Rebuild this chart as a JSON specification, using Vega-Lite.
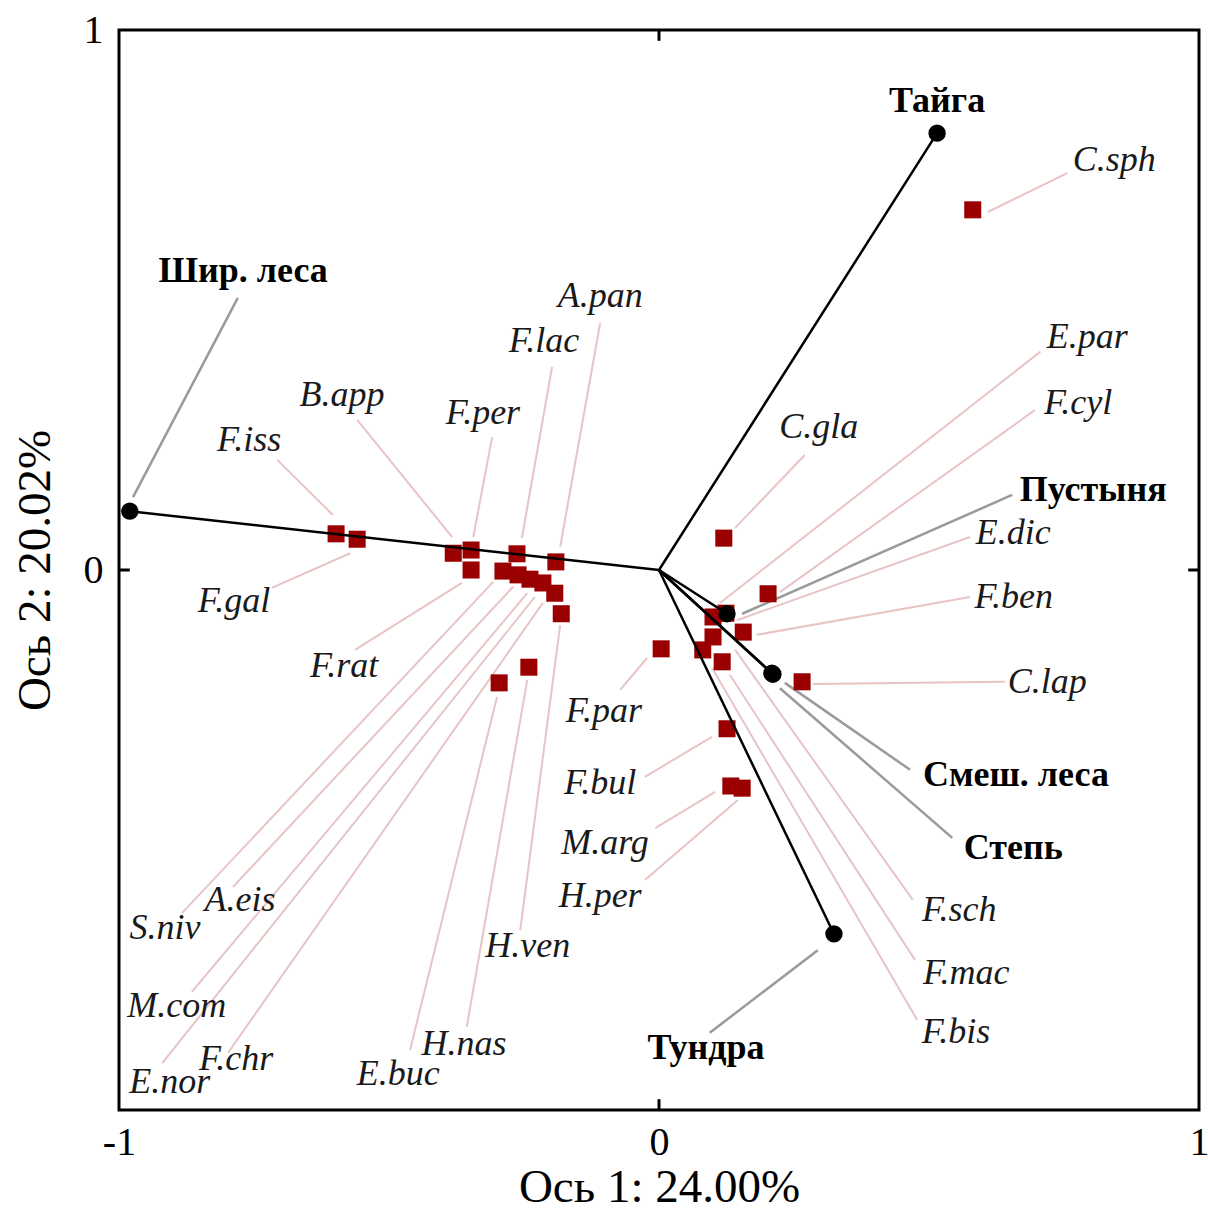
{
  "$schema": "https://vega.github.io/schema/vega-lite/v6.json",
  "width": 1080,
  "height": 1080,
  "autosize": {"type": "none"},
  "padding": {"left": 119, "top": 30, "right": 9, "bottom": 99},
  "background": "white",
  "datasets": {
    "species": [
      {"n":"F.iss","x":-0.598,"y":0.067,"lx":-0.759,"ly":0.241,"ax":-0.707,"ay":0.204,"bx":-0.604,"by":0.102},
      {"n":"F.gal","x":-0.559,"y":0.057,"lx":-0.787,"ly":-0.057,"ax":-0.717,"ay":-0.033,"bx":-0.572,"by":0.031},
      {"n":"B.app","x":-0.381,"y":0.031,"lx":-0.587,"ly":0.324,"ax":-0.559,"ay":0.278,"bx":-0.383,"by":0.061},
      {"n":"F.per","x":-0.348,"y":0.037,"lx":-0.326,"ly":0.291,"ax":-0.309,"ay":0.246,"bx":-0.344,"by":0.061},
      {"n":"F.rat","x":-0.348,"y":0.0,"lx":-0.583,"ly":-0.178,"ax":-0.563,"ay":-0.148,"bx":-0.365,"by":-0.024},
      {"n":"F.lac","x":-0.263,"y":0.030,"lx":-0.213,"ly":0.424,"ax":-0.198,"ay":0.376,"bx":-0.254,"by":0.059},
      {"n":"A.pan","x":-0.191,"y":0.015,"lx":-0.109,"ly":0.507,"ax":-0.109,"ay":0.457,"bx":-0.183,"by":0.043},
      {"n":"S.niv","x":-0.289,"y":-0.002,"lx":-0.915,"ly":-0.663,"ax":-0.883,"ay":-0.635,"bx":-0.307,"by":-0.022},
      {"n":"A.eis","x":-0.261,"y":-0.009,"lx":-0.776,"ly":-0.611,"ax":-0.789,"ay":-0.587,"bx":-0.270,"by":-0.031},
      {"n":"M.com","x":-0.239,"y":-0.017,"lx":-0.893,"ly":-0.807,"ax":-0.865,"ay":-0.781,"bx":-0.244,"by":-0.043},
      {"n":"E.nor","x":-0.215,"y":-0.024,"lx":-0.906,"ly":-0.948,"ax":-0.920,"ay":-0.913,"bx":-0.230,"by":-0.050},
      {"n":"F.chr","x":-0.193,"y":-0.043,"lx":-0.783,"ly":-0.906,"ax":-0.798,"ay":-0.894,"bx":-0.215,"by":-0.061},
      {"n":"H.ven","x":-0.181,"y":-0.081,"lx":-0.243,"ly":-0.696,"ax":-0.257,"ay":-0.667,"bx":-0.183,"by":-0.102},
      {"n":"H.nas","x":-0.241,"y":-0.180,"lx":-0.361,"ly":-0.878,"ax":-0.356,"ay":-0.846,"bx":-0.244,"by":-0.204},
      {"n":"E.buc","x":-0.296,"y":-0.209,"lx":-0.483,"ly":-0.933,"ax":-0.461,"ay":-0.889,"bx":-0.300,"by":-0.235},
      {"n":"C.sph","x":0.581,"y":0.667,"lx":0.843,"ly":0.759,"ax":0.756,"ay":0.735,"bx":0.609,"by":0.663},
      {"n":"C.gla","x":0.120,"y":0.059,"lx":0.296,"ly":0.265,"ax":0.270,"ay":0.213,"bx":0.141,"by":0.078},
      {"n":"E.par","x":0.100,"y":-0.087,"lx":0.793,"ly":0.431,"ax":0.706,"ay":0.404,"bx":0.113,"by":-0.061},
      {"n":"F.cyl","x":0.202,"y":-0.044,"lx":0.776,"ly":0.309,"ax":0.696,"ay":0.296,"bx":0.224,"by":-0.041},
      {"n":"E.dic","x":0.124,"y":-0.080,"lx":0.656,"ly":0.069,"ax":0.576,"ay":0.061,"bx":0.144,"by":-0.093},
      {"n":"F.ben","x":0.156,"y":-0.115,"lx":0.657,"ly":-0.050,"ax":0.576,"ay":-0.050,"bx":0.181,"by":-0.120},
      {"n":"C.lap","x":0.265,"y":-0.207,"lx":0.719,"ly":-0.207,"ax":0.641,"ay":-0.207,"bx":0.285,"by":-0.211},
      {"n":"F.sch","x":0.100,"y":-0.124,"lx":0.556,"ly":-0.630,"ax":0.470,"ay":-0.611,"bx":0.141,"by":-0.148},
      {"n":"F.mac","x":0.117,"y":-0.170,"lx":0.569,"ly":-0.746,"ax":0.474,"ay":-0.722,"bx":0.131,"by":-0.194},
      {"n":"F.bis","x":0.081,"y":-0.148,"lx":0.550,"ly":-0.856,"ax":0.478,"ay":-0.833,"bx":0.098,"by":-0.181},
      {"n":"F.par","x":0.004,"y":-0.146,"lx":-0.102,"ly":-0.261,"ax":-0.072,"ay":-0.222,"bx":-0.022,"by":-0.163},
      {"n":"F.bul","x":0.126,"y":-0.294,"lx":-0.109,"ly":-0.394,"ax":-0.026,"ay":-0.383,"bx":0.098,"by":-0.309},
      {"n":"M.arg","x":0.133,"y":-0.400,"lx":-0.100,"ly":-0.506,"ax":-0.007,"ay":-0.478,"bx":0.104,"by":-0.411},
      {"n":"H.per","x":0.154,"y":-0.404,"lx":-0.109,"ly":-0.604,"ax":-0.026,"ay":-0.574,"bx":0.146,"by":-0.426}
    ],
    "env": [
      {"n":"Тайга","x":0.515,"y":0.809,"lx":0.515,"ly":0.869},
      {"n":"Шир. леса","x":-0.980,"y":0.109,"lx":-0.770,"ly":0.554,"ax":-0.780,"ay":0.504,"bx":-0.974,"by":0.135},
      {"n":"Пустыня","x":0.126,"y":-0.081,"lx":0.804,"ly":0.148,"ax":0.654,"ay":0.139,"bx":0.154,"by":-0.081},
      {"n":"Смеш. леса","x":0.209,"y":-0.191,"lx":0.661,"ly":-0.380,"ax":0.465,"ay":-0.370,"bx":0.233,"by":-0.209},
      {"n":"Степь","x":0.211,"y":-0.193,"lx":0.656,"ly":-0.515,"ax":0.543,"ay":-0.496,"bx":0.224,"by":-0.219},
      {"n":"Тундра","x":0.324,"y":-0.674,"lx":0.087,"ly":-0.885,"ax":0.094,"ay":-0.857,"bx":0.294,"by":-0.704}
    ],
    "vectors": [
      {"g":"Тайга","x":0,"y":0},{"g":"Тайга","x":0.515,"y":0.809},
      {"g":"Шир. леса","x":0,"y":0},{"g":"Шир. леса","x":-0.980,"y":0.109},
      {"g":"Пустыня","x":0,"y":0},{"g":"Пустыня","x":0.126,"y":-0.081},
      {"g":"Смеш. леса","x":0,"y":0},{"g":"Смеш. леса","x":0.209,"y":-0.191},
      {"g":"Степь","x":0,"y":0},{"g":"Степь","x":0.211,"y":-0.193},
      {"g":"Тундра","x":0,"y":0},{"g":"Тундра","x":0.324,"y":-0.674}
    ],
    "ticks": [
      {"x":0,"y":1,"x2":0,"y2":0.98},
      {"x":0,"y":-1,"x2":0,"y2":-0.98},
      {"x":-1,"y":0,"x2":-0.98,"y2":0},
      {"x":1,"y":0,"x2":0.98,"y2":0}
    ]
  },
  "layer": [
    {
      "data": {"name": "ticks"},
      "mark": {"type": "rule", "color": "black", "strokeWidth": 3},
      "encoding": {
        "x": {"field": "x", "type": "quantitative", "scale": {"domain": [-1, 1], "nice": false, "zero": false},
              "axis": {"values": [-1, 0, 1], "title": "Ось 1: 24.00%", "labelPadding": 12, "titlePadding": 2, "labelFlush": false,
                       "labelExpr": "datum.value < 0 ? '-1\u00a0\u00a0\u00a0\u00a0' : toString(datum.value)"}},
        "y": {"field": "y", "type": "quantitative", "scale": {"domain": [-1, 1], "nice": false, "zero": false},
              "axis": {"values": [0, 1], "title": "Ось 2: 20.02%", "labelPadding": 16, "titlePadding": 24, "labelFlush": false,
                       "labelExpr": "toString(datum.value)"}},
        "x2": {"field": "x2"},
        "y2": {"field": "y2"}
      }
    },
    {
      "data": {"name": "species"},
      "mark": {"type": "rule", "color": "#e8c4c4", "strokeWidth": 2},
      "encoding": {
        "x": {"field": "ax", "type": "quantitative", "scale": {"domain": [-1, 1], "nice": false, "zero": false}},
        "y": {"field": "ay", "type": "quantitative", "scale": {"domain": [-1, 1], "nice": false, "zero": false}},
        "x2": {"field": "bx"},
        "y2": {"field": "by"}
      }
    },
    {
      "data": {"name": "env"},
      "transform": [{"filter": "datum.ax != null"}],
      "mark": {"type": "rule", "color": "#9a9a9a", "strokeWidth": 2.5},
      "encoding": {
        "x": {"field": "ax", "type": "quantitative", "scale": {"domain": [-1, 1], "nice": false, "zero": false}},
        "y": {"field": "ay", "type": "quantitative", "scale": {"domain": [-1, 1], "nice": false, "zero": false}},
        "x2": {"field": "bx"},
        "y2": {"field": "by"}
      }
    },
    {
      "data": {"name": "species"},
      "mark": {"type": "square", "filled": true, "color": "#9b0000", "size": 290, "opacity": 1},
      "encoding": {
        "x": {"field": "x", "type": "quantitative", "scale": {"domain": [-1, 1], "nice": false, "zero": false}},
        "y": {"field": "y", "type": "quantitative", "scale": {"domain": [-1, 1], "nice": false, "zero": false}}
      }
    },
    {
      "data": {"name": "vectors"},
      "mark": {"type": "line", "color": "black", "strokeWidth": 2.5},
      "encoding": {
        "x": {"field": "x", "type": "quantitative", "scale": {"domain": [-1, 1], "nice": false, "zero": false}},
        "y": {"field": "y", "type": "quantitative", "scale": {"domain": [-1, 1], "nice": false, "zero": false}},
        "detail": {"field": "g", "type": "nominal"},
        "order": {"value": null}
      }
    },
    {
      "data": {"name": "env"},
      "mark": {"type": "circle", "color": "black", "size": 300, "opacity": 1},
      "encoding": {
        "x": {"field": "x", "type": "quantitative", "scale": {"domain": [-1, 1], "nice": false, "zero": false}},
        "y": {"field": "y", "type": "quantitative", "scale": {"domain": [-1, 1], "nice": false, "zero": false}}
      }
    },
    {
      "data": {"name": "species"},
      "mark": {"type": "text", "font": "Liberation Serif", "fontStyle": "italic", "fontSize": 36, "color": "#1a1a1a", "align": "center", "baseline": "middle"},
      "encoding": {
        "x": {"field": "lx", "type": "quantitative", "scale": {"domain": [-1, 1], "nice": false, "zero": false}},
        "y": {"field": "ly", "type": "quantitative", "scale": {"domain": [-1, 1], "nice": false, "zero": false}},
        "text": {"field": "n"}
      }
    },
    {
      "data": {"name": "env"},
      "mark": {"type": "text", "font": "Liberation Serif", "fontWeight": "bold", "fontSize": 36, "color": "black", "align": "center", "baseline": "middle"},
      "encoding": {
        "x": {"field": "lx", "type": "quantitative", "scale": {"domain": [-1, 1], "nice": false, "zero": false}},
        "y": {"field": "ly", "type": "quantitative", "scale": {"domain": [-1, 1], "nice": false, "zero": false}},
        "text": {"field": "n"}
      }
    }
  ],
  "config": {
    "view": {"stroke": "black", "strokeWidth": 3},
    "axis": {"grid": false, "ticks": false, "domain": false, "labelFont": "Liberation Serif", "labelFontSize": 40, "labelColor": "black",
             "titleFont": "Liberation Serif", "titleFontSize": 47, "titleFontWeight": "normal", "titleColor": "black"}
  }
}
